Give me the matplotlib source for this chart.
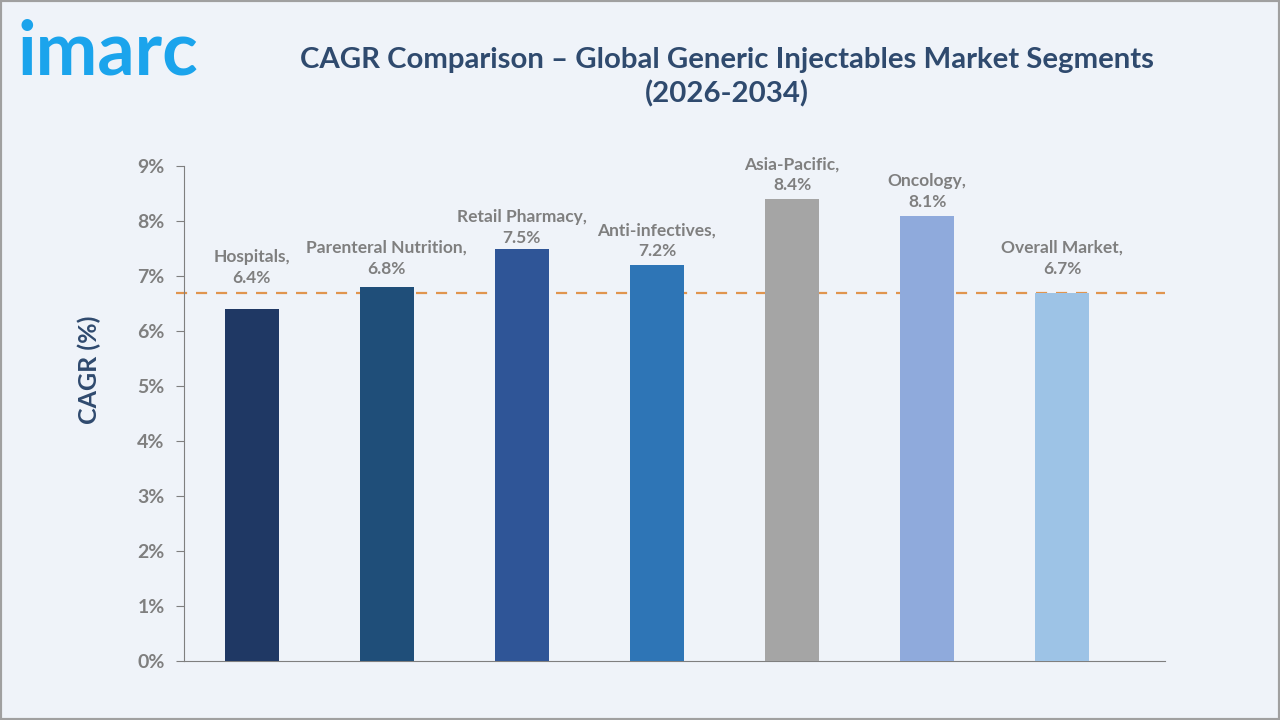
import numpy as np
import matplotlib.pyplot as plt
from matplotlib.patches import Rectangle

categories = ['Hospitals', 'Parenteral Nutrition', 'Retail Pharmacy', 'Anti-infectives',
              'Asia-Pacific', 'Oncology', 'Overall Market']
cagr = [6.4, 6.8, 7.5, 7.2, 8.4, 8.1, 6.7]
colors = ['#1f3864', '#1f4e79', '#2f5597', '#2e75b6', '#a5a5a5', '#8faadc', '#9dc3e6']
overall = 6.7
# extra lift for labels that would sit on the dashed line
label_lift = [0.42, 0.18, 0.05, 0.1, 0.1, 0.1, 0.28]

bg = '#eff3f9'
navy = '#2f4a6e'
grey = '#7f7f7f'

plt.rcParams['font.family'] = ['Lato', 'DejaVu Sans']

fig = plt.figure(figsize=(12.8, 7.2), dpi=100, facecolor=bg)
ax = fig.add_axes([184/1280, 1 - 661/720, (1165-184)/1280, (661-166)/720])
ax.set_facecolor(bg)

x = np.arange(len(categories))
ax.bar(x, cagr, width=0.4, color=colors, zorder=3)
ax.axhline(overall, xmin=-0.008, color='#e0954f', lw=1.6, ls=(0, (5, 4)), zorder=2,
           clip_on=False)

for xi, v, name, lift in zip(x, cagr, categories, label_lift):
    ax.text(xi, v + lift, f'{name},\n{v}%', ha='center', va='bottom', fontsize=12.5,
            fontweight='bold', color=grey, linespacing=1.4, zorder=4)

ax.set_xlim(-0.5, 6.76)
ax.set_ylim(0, 9)
ax.set_yticks(range(10))
ax.set_yticklabels([f'{i}%' for i in range(10)], fontsize=14, fontweight='bold', color=grey)
ax.set_xticks([])
ax.tick_params(axis='y', length=6, color=grey, pad=8)
for s in ['top', 'right']:
    ax.spines[s].set_visible(False)
ax.spines['left'].set_color(grey)
ax.spines['bottom'].set_color(grey)
ax.set_ylabel('CAGR (%)', fontsize=18, fontweight='bold', color=navy)
ax.yaxis.set_label_coords(-0.085, 0.588)

fig.text(0.568, 0.893, 'CAGR Comparison – Global Generic Injectables Market Segments\n(2026-2034)',
         ha='center', va='center', fontsize=21.2, fontweight='bold', color=navy, linespacing=1.35)
fig.text(0.014, 0.896, 'imarc', ha='left', va='baseline', fontsize=53, fontweight='bold',
         color='#1ba4ec')

fig.patches.append(Rectangle((0, 0), 1, 1, transform=fig.transFigure, fill=False,
                             edgecolor='#a0a0a0', lw=3))

fig.savefig('out.png', dpi=100, facecolor=bg)
